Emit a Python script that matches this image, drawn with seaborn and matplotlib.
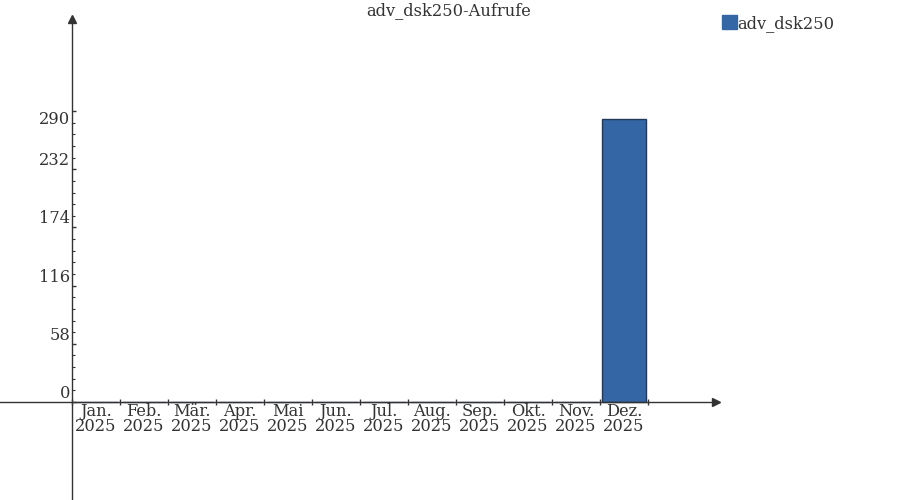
import matplotlib
matplotlib.use("Agg")
import matplotlib.pyplot as plt
import seaborn as sns
import pandas as pd
import numpy as np

# ---- data ----
months = ["Jan.", "Feb.", "Mär.", "Apr.", "Mai", "Jun.", "Jul.", "Aug.", "Sep.", "Okt.", "Nov.", "Dez."]
year = "2025"
calls = [0, 0, 0, 0, 0, 0, 0, 0, 0, 0, 0, 282]
series_name = "adv_dsk250"
title = "adv_dsk250-Aufrufe"
y_major = [0, 58, 116, 174, 232, 290]
y_minor_step = 11.6

# ---- style ----
sns.set_theme(style="white")
plt.rcParams["font.family"] = ["DejaVu Serif"]
FS = 11.7
TXT = "#333333"
BAR = "#3465a4"
EDGE = "#22395a"

fig = plt.figure(figsize=(9, 5), dpi=100)
ax = fig.add_axes([0, 0, 1, 1])
ax.set_facecolor("none")

df = pd.DataFrame({
    "month": [f"{m}\n{year}" for m in months],
    "calls": calls,
    "series": series_name,
})
sns.barplot(data=df, x="month", y="calls", hue="series", palette=[BAR],
            width=0.92, edgecolor=EDGE, linewidth=1, ax=ax, legend=True,
            saturation=1)

# pixel-calibrated limits: category width 48px, first centre at x=96px; 0 at y=402px
px_per_unit = 1.003
ax.set_xlim(-96 / 48, (900 - 96) / 48)
ax.set_ylim(-(500 - 402) / px_per_unit, 402 / px_per_unit)

n = len(months)
# axis lines
for s in ["top", "right"]:
    ax.spines[s].set_visible(False)
ax.spines["left"].set_position(("data", -0.5))
ax.spines["bottom"].set_position(("data", 0))
y_top = (402 - 19) / px_per_unit
x_end = (716 - 96) / 48
ax.spines["left"].set_bounds(-(500 - 402) / px_per_unit, y_top)
ax.spines["bottom"].set_bounds(-96 / 48, x_end)
for s in ["left", "bottom"]:
    ax.spines[s].set_color(TXT)
    ax.spines[s].set_linewidth(1)
ax.plot([x_end], [0], marker=">", ms=6, color=TXT, clip_on=False, zorder=5)
ax.plot([-0.5], [y_top], marker="^", ms=6, color=TXT, clip_on=False, zorder=5)

# y ticks
ax.set_yticks(y_major)
ax.set_yticks(np.arange(0, y_major[-1] + 0.01, y_minor_step), minor=True)
ax.tick_params(axis="y", which="major", direction="in", length=3, width=1,
               colors=TXT, labelsize=FS, pad=1.5, left=True)
ax.tick_params(axis="y", which="minor", direction="in", length=2.5, width=0.8,
               colors=TXT, left=True)
ax.set_yticklabels([str(v) for v in y_major])
yt = ax.yaxis.get_major_ticks()
for i, t in enumerate(yt):
    t.label1.set_va("top" if i == len(yt) - 1 else "bottom")

# x ticks: boundaries as major ticks, labels at centres as minor
ax.set_xticks(np.arange(n + 1) - 0.5)
ax.set_xticklabels([""] * (n + 1))
ax.set_xticks(np.arange(n), minor=True)
ax.set_xticklabels(df["month"], minor=True)
ax.tick_params(axis="x", which="major", direction="inout", length=5, width=1,
               colors=TXT, bottom=True)
ax.tick_params(axis="x", which="minor", length=0, labelsize=FS, pad=1.0,
               colors=TXT, bottom=True)
for t in ax.get_xticklabels(minor=True):
    t.set_linespacing(0.8)

ax.set_xlabel("")
ax.set_ylabel("")

# title
fig.text(449 / 900, 1 - 15 / 500, title, ha="center", va="baseline",
         fontsize=FS, color=TXT)

# legend
handles, labels = ax.get_legend_handles_labels()
leg = ax.legend(handles, labels, loc="upper left",
                bbox_to_anchor=(722 / 900, 1 - 15 / 500), bbox_transform=fig.transFigure,
                frameon=False, handlelength=0.95, handleheight=0.95, handletextpad=0.0,
                borderpad=0, borderaxespad=0, fontsize=FS, labelcolor=TXT)
for h in leg.legend_handles:
    h.set_edgecolor(BAR)

fig.savefig("out.png", dpi=100)
